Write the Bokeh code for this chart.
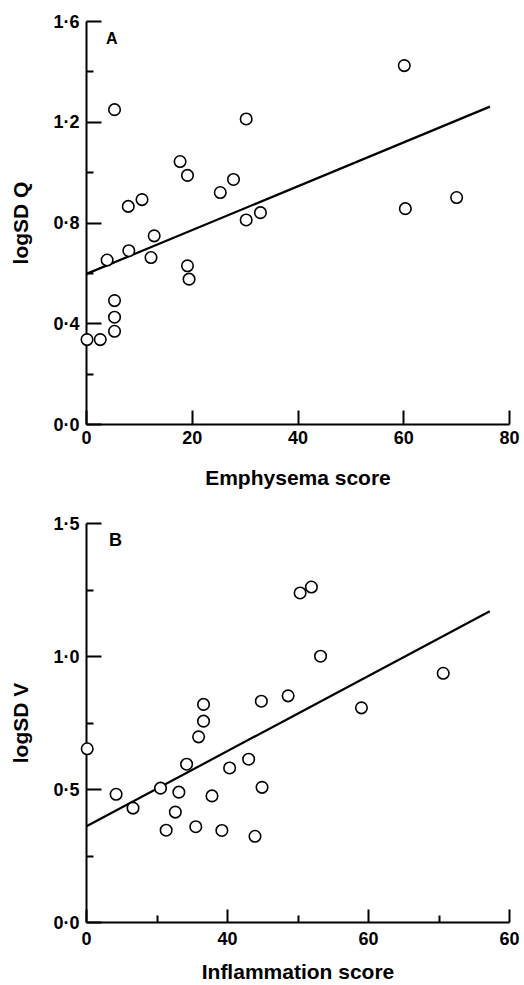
from bokeh.plotting import figure
from bokeh.models import Range1d, FixedTicker, Label
from bokeh.layouts import column
from bokeh.embed import file_html
from bokeh.resources import INLINE

# ---------------- Panel A data ----------------
emphysema_score = [60.1, 5.3, 30.2, 17.7, 19.1, 27.8, 25.3, 7.9, 10.5, 70.0, 60.3, 30.2,
                   32.9, 12.8, 8.0, 3.9, 12.2, 19.1, 19.4, 5.3, 5.3, 5.3, 0.1, 2.6]
logsd_q = [1.425, 1.250, 1.213, 1.044, 0.989, 0.973, 0.921, 0.866, 0.893, 0.901, 0.857, 0.812,
           0.841, 0.749, 0.690, 0.653, 0.663, 0.630, 0.577, 0.492, 0.426, 0.370, 0.337, 0.337]
fit_a_x = [0.0, 76.3]
fit_a_y = [0.598, 1.262]
a_xticks = [0, 20, 40, 60, 80]
a_xlabels = ["0", "20", "40", "60", "80"]
a_xminor = []
a_yticks = [0.0, 0.4, 0.8, 1.2, 1.6]
a_ylabels = ["0·0", "0·4", "0·8", "1·2", "1·6"]
a_yminor = [0.2, 0.6, 1.0, 1.4]

# ---------------- Panel B data ----------------
inflammation_score = [30.3, 31.9, 33.2, 50.6, 24.8, 28.6, 39.0, 16.6, 16.6, 15.9, 0.1, 14.2, 23.0,
                      20.3, 24.9, 4.2, 10.5, 13.1, 17.8, 6.6, 12.6, 11.3, 15.5, 19.2, 23.9]
logsd_v = [1.239, 1.261, 1.001, 0.937, 0.832, 0.852, 0.807, 0.820, 0.757, 0.698, 0.653, 0.595, 0.614,
           0.581, 0.508, 0.482, 0.505, 0.490, 0.476, 0.430, 0.415, 0.347, 0.360, 0.346, 0.324]
fit_b_x = [0.0, 57.2]
fit_b_y = [0.362, 1.170]
b_xticks = [0, 20, 40, 60]
b_xlabels = ["0", "40", "60", "60"]
b_xminor = [10, 30, 50]
b_yticks = [0.0, 0.5, 1.0, 1.5]
b_ylabels = ["0·0", "0·5", "1·0", "1·5"]
b_yminor = [0.25, 0.75, 1.25]

FONT = "Liberation Sans"


def make_panel(xs, ys, fx, fy, xr, yr, xt, xl, xminor, yt, yl, yminor,
               xlabel, ylabel, letter, letter_pos, letter_size, height, borders,
               x_standoff, x_title_standoff, y_title_standoff, x_minor_len):
    top, bottom, left, right = borders
    p = figure(width=524, height=height, output_backend="svg", toolbar_location=None,
               x_range=Range1d(*xr), y_range=Range1d(*yr),
               min_border_top=top, min_border_bottom=bottom,
               min_border_left=left, min_border_right=right)
    p.grid.visible = False
    p.outline_line_color = None
    p.background_fill_color = "white"
    p.border_fill_color = "white"

    p.line(fx, fy, line_color="black", line_width=2.2)
    # overlay level so markers sitting on the axis are not clipped by the frame
    p.scatter(xs, ys, marker="circle", size=11.5, fill_color="white",
              line_color="black", line_width=1.6, level="overlay")

    xa = p.xaxis[0]
    ya = p.yaxis[0]
    xa.ticker = FixedTicker(ticks=xt, minor_ticks=xminor)
    xa.major_label_overrides = dict(zip(xt, xl))
    ya.ticker = FixedTicker(ticks=yt, minor_ticks=yminor)
    ya.major_label_overrides = dict(zip(yt, yl))

    for ax in (xa, ya):
        ax.axis_line_width = 2
        ax.axis_line_color = "black"
        ax.major_tick_in = 14
        ax.major_tick_out = 0
        ax.minor_tick_out = 0
        ax.major_tick_line_width = 2
        ax.minor_tick_line_width = 2
        ax.major_tick_line_color = "black"
        ax.minor_tick_line_color = "black"
        ax.major_label_text_font = FONT
        ax.major_label_text_font_style = "bold"
        ax.major_label_text_font_size = "18px"
        ax.major_label_text_color = "black"
        ax.axis_label_text_font = FONT
        ax.axis_label_text_font_style = "bold"
        ax.axis_label_text_font_size = "21px"
        ax.axis_label_text_color = "black"
    ya.major_tick_in = 15
    ya.minor_tick_in = 7
    xa.minor_tick_in = x_minor_len
    xa.major_label_standoff = x_standoff
    ya.major_label_standoff = 7
    xa.axis_label = xlabel
    ya.axis_label = ylabel
    xa.axis_label_standoff = x_title_standoff
    ya.axis_label_standoff = y_title_standoff

    p.add_layout(Label(x=letter_pos[0], y=letter_pos[1], text=letter, text_font=FONT,
                       text_font_style="bold", text_font_size=letter_size,
                       text_color="black", text_baseline="alphabetic"))
    return p


pA = make_panel(emphysema_score, logsd_q, fit_a_x, fit_a_y,
                (0.0, 80.0), (0.0, 1.6),
                a_xticks, a_xlabels, a_xminor, a_yticks, a_ylabels, a_yminor,
                "Emphysema score", "logSD Q", "A", (3.7, 1.534), "16px",
                height=492, borders=(21, 68, 86, 13),
                x_standoff=6, x_title_standoff=19, y_title_standoff=18, x_minor_len=0)

pB = make_panel(inflammation_score, logsd_v, fit_b_x, fit_b_y,
                (0.0, 60.0), (0.0, 1.5),
                b_xticks, b_xlabels, b_xminor, b_yticks, b_ylabels, b_yminor,
                "Inflammation score", "logSD V", "B", (3.2, 1.438), "18px",
                height=493, borders=(31, 63, 84, 15),
                x_standoff=9, x_title_standoff=12, y_title_standoff=18, x_minor_len=7)
pB.xaxis[0].major_tick_in = 13

layout = column(pA, pB, spacing=0)
open("out.html", "w").write(file_html(layout, INLINE))
